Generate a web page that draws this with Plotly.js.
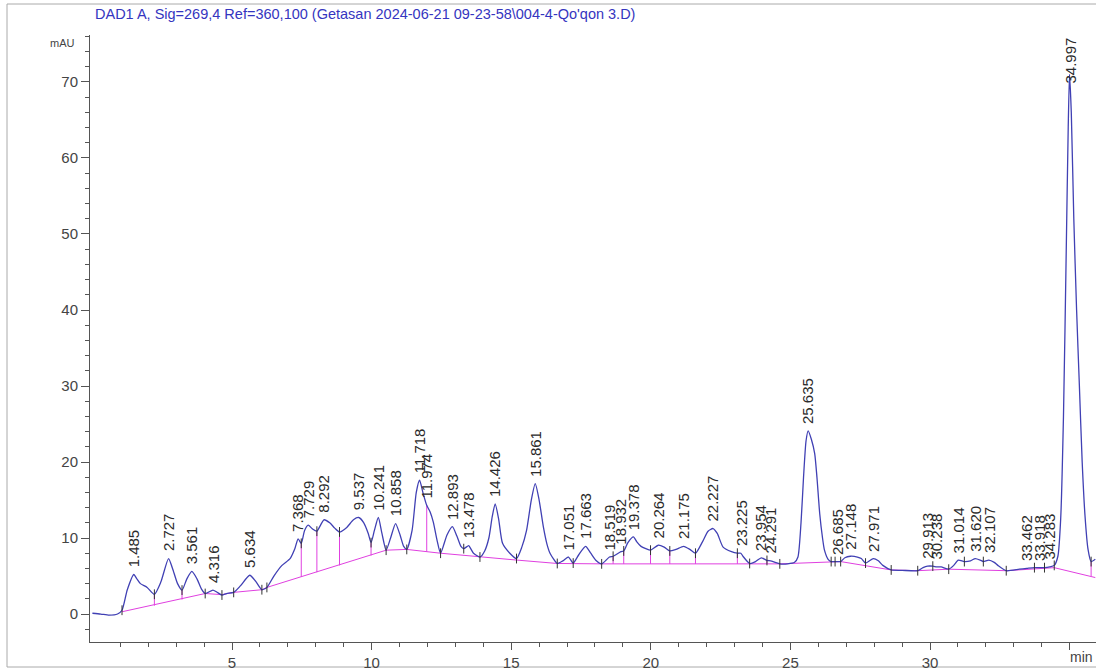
<!DOCTYPE html>
<html>
<head>
<meta charset="utf-8">
<script src="https://cdn.plot.ly/plotly-3.0.1.min.js"></script>
<style>html,body{margin:0;padding:0;background:#fff;}#chart{width:1096px;height:670px;}</style>
</head>
<body>
<div id="chart"></div>
<script>
// Signal (min, mAU)
const times = [0.0,0.3,0.6,0.9,1.06,1.25,1.485,1.58,1.72,1.96,2.22,2.45,2.727,2.87,3.05,3.21,3.38,3.561,3.75,3.92,4.04,4.316,4.45,4.64,4.8,5.06,5.3,5.634,5.85,6.07,6.25,6.5,6.79,7.08,7.25,7.368,7.48,7.6,7.729,7.88,8.04,8.292,8.5,8.68,8.85,9.11,9.35,9.537,9.72,9.88,9.98,10.1,10.241,10.37,10.52,10.68,10.858,11.02,11.15,11.26,11.45,11.6,11.718,11.85,11.974,12.1,12.21,12.35,12.47,12.7,12.893,13.05,13.2,13.3,13.478,13.55,13.65,13.88,14.05,14.2,14.32,14.426,14.55,14.69,14.95,15.19,15.38,15.55,15.72,15.861,16.0,16.15,16.28,16.39,16.65,16.85,17.051,17.22,17.42,17.663,17.85,18.05,18.24,18.519,18.65,18.932,19.03,19.18,19.378,19.5,19.65,19.82,19.99,20.264,20.48,20.68,20.9,21.175,21.4,21.6,21.85,22.05,22.227,22.38,22.59,22.89,23.1,23.225,23.3,23.54,23.75,23.954,24.16,24.291,24.45,24.62,24.9,25.15,25.27,25.38,25.47,25.56,25.635,25.75,25.87,25.95,26.05,26.15,26.22,26.35,26.46,26.6,26.685,26.8,26.95,27.148,27.4,27.54,27.69,27.971,28.15,28.31,28.61,29.0,29.56,29.75,29.913,30.1,30.238,30.4,30.67,30.85,31.014,31.23,31.45,31.62,31.8,31.91,32.107,32.3,32.43,32.73,33.2,33.462,33.74,33.918,34.1,34.283,34.45,34.58,34.68,34.78,34.88,34.95,34.997,35.06,35.15,35.25,35.35,35.45,35.55,35.66,35.77,35.92];
const mAU = [0.1,0.0,-0.15,0.0,0.5,3.2,5.2,4.7,4.0,3.5,2.6,4.2,7.3,6.0,4.0,3.15,4.6,5.6,4.6,3.2,2.7,3.15,2.9,2.5,2.7,2.85,3.7,5.1,4.3,3.2,3.5,5.0,6.4,7.3,8.6,9.9,9.3,11.0,11.7,11.2,10.9,12.4,12.0,11.3,10.8,11.4,12.4,12.7,12.0,10.6,9.4,11.0,12.7,10.6,8.4,10.0,11.9,10.4,8.9,8.5,11.0,16.0,17.6,15.8,14.3,13.4,12.1,9.6,8.0,10.4,11.5,10.3,8.9,8.6,9.0,8.6,8.0,7.5,8.3,10.0,12.8,14.5,12.5,9.3,8.0,7.3,8.8,11.0,15.0,17.15,15.0,11.5,9.2,8.0,6.65,7.0,7.5,6.7,7.8,8.9,8.0,7.0,6.6,7.5,7.6,8.2,8.3,9.4,10.15,9.5,8.9,8.6,8.4,9.05,8.8,8.3,8.5,8.9,8.5,8.0,9.5,10.9,11.25,10.6,8.8,8.2,8.0,8.0,7.6,6.65,6.9,7.4,7.05,7.0,6.8,6.6,6.6,6.8,7.5,12.0,18.0,22.8,24.1,23.0,21.1,18.0,13.2,10.0,8.4,7.2,6.9,6.9,6.9,6.9,7.4,7.6,7.5,7.3,6.7,7.3,7.0,6.4,5.8,5.75,5.7,6.1,6.3,6.3,6.2,6.2,5.9,6.4,7.1,6.9,7.0,7.3,7.1,6.9,7.1,6.8,6.4,5.7,5.9,6.0,6.1,6.1,6.1,6.2,6.4,7.6,12.5,26.0,48.0,64.0,71.0,66.0,52.0,40.0,30.0,20.0,13.0,8.5,6.9,7.2];

// Integration baseline (min, mAU)
const baseT = [1.06,4.04,4.64,5.06,6.07,6.25,10.52,11.26,12.47,13.88,15.19,16.65,18.24,24.62,26.46,26.8,28.61,29.56,30.67,32.73,34.45,35.77,35.92];
const baseV = [0.3,2.7,2.55,2.85,3.2,3.5,8.4,8.5,8.0,7.5,7.1,6.65,6.6,6.6,6.85,6.9,5.8,5.7,5.9,5.7,6.1,5.0,4.8];

// Drop lines (time, baseline value at foot)
const dropTimes = [2.22,3.21,7.48,8.04,8.85,9.98,11.974,18.65,19.03,19.99,20.68,21.6,23.1,24.16,26.6,35.77];
const dropBase  = [1.1,1.9,4.9,5.5,6.4,7.7,8.2,6.6,6.6,6.6,6.6,6.6,6.6,6.6,6.85,5.0];

// Peak start/end markers
const boundaryTimes = [1.06,2.22,3.21,4.04,4.64,5.06,6.07,6.25,7.48,8.04,8.85,9.98,10.52,11.26,12.47,13.3,13.88,15.19,16.65,17.22,18.24,18.65,19.03,19.99,20.68,21.6,23.1,23.54,24.16,24.62,26.46,26.6,26.8,27.69,28.61,29.56,30.1,30.67,31.23,31.91,32.73,33.74,34.1,34.45,35.77];

// Peak retention times (labels)
const peakRT = [1.485,2.727,3.561,4.316,5.634,7.368,7.729,8.292,9.537,10.241,10.858,11.718,11.974,12.893,13.478,14.426,15.861,17.051,17.663,18.519,18.932,19.378,20.264,21.175,22.227,23.225,23.954,24.291,25.635,26.685,27.148,27.971,29.913,30.238,31.014,31.620,32.107,33.462,33.918,34.283,34.997];

// Axis ticks
const xTickVals = [5,10,15,20,25,30,35];
const xTickText = ['5','10','15','20','25','30',''];
const yTickVals = [0,10,20,30,40,50,60,70];

const titleText = "DAD1 A, Sig=269,4 Ref=360,100 (Getasan 2024-06-21 09-23-58\\004-4-Qo'qon 3.D)";

function valAt(t){ const i = times.indexOf(t); return i >= 0 ? mAU[i] : null; }

const xr = [-0.086, 35.945];
const yr = [-3.68, 76.18];
const FAM = 'Liberation Sans, Arial, sans-serif';

const dropX = [], dropY = [];
dropTimes.forEach((t,i)=>{ dropX.push(t,t,null); dropY.push(dropBase[i], valAt(t), null); });

const traces = [
  {x: baseT, y: baseV, mode:'lines', line:{color:'#e040e0', width:1}, hoverinfo:'skip'},
  {x: dropX, y: dropY, mode:'lines', line:{color:'#e040e0', width:1}, hoverinfo:'skip', connectgaps:false},
  {x: times, y: mAU, mode:'lines', line:{color:'#4040b4', width:1.3, shape:'spline', smoothing:0.6}},
  {x: boundaryTimes, y: boundaryTimes.map(valAt), mode:'markers',
   marker:{symbol:'line-ns', size:7, line:{color:'#333', width:1}}, hoverinfo:'skip'}
];

const ann = peakRT.map(rt=>{
  const h = valAt(rt);
  const big = h > 60;
  return {x: rt, y: big ? yr[1] : h, xref:'x', yref:'y', text: rt.toFixed(3),
    showarrow:false, textangle:-90, xanchor:'center', yanchor: big ? 'top' : 'bottom',
    yshift: big ? -1 : 5, font:{family:FAM, size:15, color:'#2a2a2a'}};
});
ann.push({xref:'paper', yref:'paper', x:(77-90)/1006, y:(642-43)/607, xanchor:'right', yanchor:'middle',
  text:'mAU', showarrow:false, font:{family:FAM, size:11, color:'#444'}});
ann.push({xref:'paper', yref:'paper', x:1, xshift:-1, y:0, yshift:-5, xanchor:'right', yanchor:'top',
  text:'min', showarrow:false, font:{family:FAM, size:14, color:'#444'}});

const fnt = {family:FAM, size:15, color:'#444'};
const minorX = []; for (let k=1;k<=35;k++){ if (k%5) minorX.push(k); }
const minorY = []; for (let k=-2;k<=76;k+=2){ if (k%10) minorY.push(k); }

const layout = {
  width:1096, height:670,
  margin:{l:90, r:0, t:35, b:28, pad:0},
  paper_bgcolor:'#fff', plot_bgcolor:'#fff',
  showlegend:false,
  title:{text:titleText, xref:'container', yref:'container', x:95/1096, xanchor:'left',
    y:1-14/670, yanchor:'middle', font:{family:FAM, size:14.5, color:'#3535c0'}},
  xaxis:{range:xr, showgrid:false, zeroline:false, showline:true, linecolor:'#555', linewidth:1,
    tickmode:'array', tickvals:xTickVals, ticktext:xTickText, ticks:'outside', ticklen:7, tickcolor:'#555',
    tickfont:fnt, minor:{tickmode:'array', tickvals:minorX, ticks:'outside', ticklen:4, tickcolor:'#555', showgrid:false}},
  yaxis:{range:yr, showgrid:false, zeroline:false, showline:true, linecolor:'#555', linewidth:1,
    tickmode:'array', tickvals:yTickVals, ticks:'outside', ticklen:8, tickcolor:'#555',
    tickfont:fnt, minor:{tickmode:'array', tickvals:minorY, ticks:'outside', ticklen:4, tickcolor:'#555', showgrid:false}},
  annotations: ann,
  shapes:[{type:'rect', xref:'paper', yref:'paper', x0:(7-90)/1006, x1:1.02, y0:(642-667)/607, y1:(642-4)/607,
    line:{color:'#aaa', width:1}, fillcolor:'rgba(0,0,0,0)', layer:'below'}]
};

Plotly.newPlot('chart', traces, layout, {displayModeBar:false, staticPlot:true});
</script>
</body>
</html>
